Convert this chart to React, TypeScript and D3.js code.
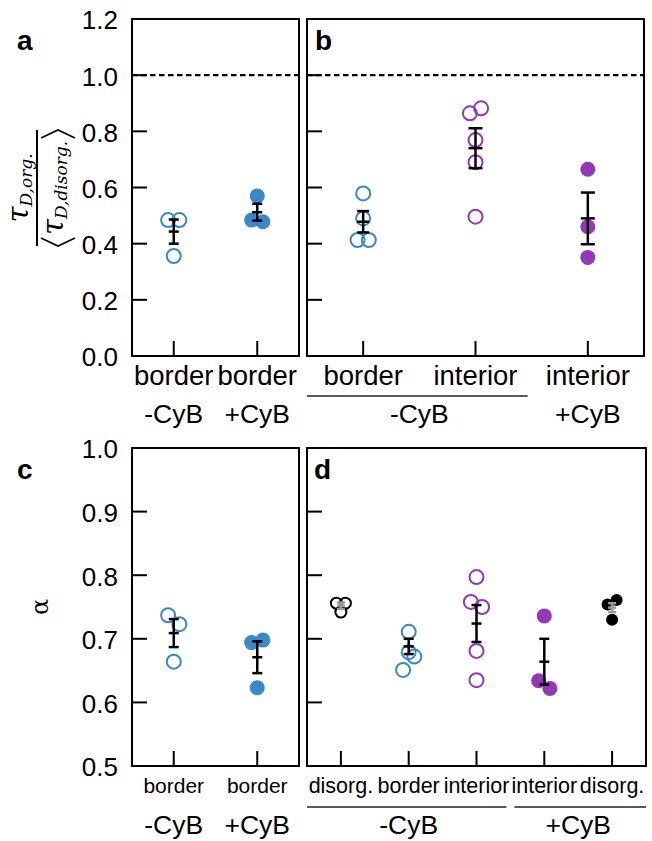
import React, { useEffect, useRef } from 'react';
import * as d3 from 'd3';

// tick values
const ratioTicks = [0, 0.2, 0.4, 0.6, 0.8, 1.0, 1.2];
const alphaTicks = [0.5, 0.6, 0.7, 0.8, 0.9, 1.0];

// panel a: tau ratio, border
const catsA = ['border', 'border'];
const condA = ['-CyB', '+CyB'];
const tauBorderNoCyB = [0.484, 0.484, 0.356];
const tauBorderCyB = [0.570, 0.484, 0.478];
const tauMeanA = [0.443, 0.512];
const tauSemA = [0.043, 0.030];

// panel b: tau ratio, border / interior
const catsB = ['border', 'interior', 'interior'];
const condB = ['-CyB', '+CyB'];
const tauBorderNoCyB2 = [0.579, 0.490, 0.413, 0.413];
const tauInteriorNoCyB = [0.864, 0.882, 0.769, 0.690, 0.496];
const tauInteriorCyB = [0.665, 0.460, 0.351];
const tauMeanB = [0.478, 0.740, 0.490];
const tauSemB = [0.038, 0.071, 0.092];

// panel c: alpha, border
const catsC = ['border', 'border'];
const condC = ['-CyB', '+CyB'];
const alphaBorderNoCyB = [0.737, 0.723, 0.664];
const alphaBorderCyB = [0.694, 0.698, 0.623];
const alphaMeanC = [0.709, 0.671];
const alphaSemC = [0.022, 0.025];

// panel d: alpha, disorg. / border / interior
const catsD = ['disorg.', 'border', 'interior', 'interior', 'disorg.'];
const condD = ['-CyB', '+CyB'];
const alphaDisorgNoCyB = [0.756, 0.756, 0.742];
const alphaBorderNoCyB2 = [0.711, 0.651, 0.672, 0.679];
const alphaInteriorNoCyB = [0.797, 0.758, 0.750, 0.681, 0.635];
const alphaInteriorCyB = [0.736, 0.634, 0.622];
const alphaDisorgCyB = [0.754, 0.761, 0.730];
const alphaMeanD = [0.752, 0.688, 0.724, 0.664, 0.749];
const alphaSemD = [0.005, 0.012, 0.029, 0.036, 0.007];

const BLUE = '#3a88c8';
const PURPLE = '#9339b8';
const SANS = 'Liberation Sans, Arial, Helvetica, sans-serif';
const SERIF = 'DejaVu Serif, serif';

// spread points that overlap vertically
function dodge(ys, r, s) {
  const order = d3.range(ys.length).sort((a, b) => ys[a] - ys[b]);
  const offs = ys.map(() => 0);
  let cluster = [];
  const flush = () => {
    const c = cluster.slice().sort((a, b) => a - b);
    const pat = c.length === 1 ? [0] : c.length === 2 ? [-s, s] : [-s, s, 0, -2 * s, 2 * s];
    c.forEach((idx, k) => { offs[idx] = pat[k % pat.length]; });
  };
  order.forEach((i, k) => {
    if (k > 0 && ys[i] - ys[order[k - 1]] >= 2 * r) { flush(); cluster = []; }
    cluster.push(i);
  });
  if (cluster.length) flush();
  return offs;
}

function drawPanel(svg, p) {
  const g = svg.append('g');
  const x = d3.scalePoint().domain(p.cats.map((_, i) => String(i))).range([p.x0, p.x1]).padding(0.5);
  const y = d3.scaleLinear().domain([p.ticks[0], p.ticks[p.ticks.length - 1]]).range([p.y1, p.y0]);

  // ticks (inside)
  g.selectAll('.yt').data(p.ticks).enter().append('line')
    .attr('x1', p.x0).attr('x2', p.x0 + 15)
    .attr('y1', d => y(d)).attr('y2', d => y(d))
    .attr('stroke', '#000').attr('stroke-width', 2);
  if (p.labels) {
    g.selectAll('.yl').data(p.ticks).enter().append('text')
      .attr('x', p.x0 - 14).attr('y', d => y(d) + 1 + 0.36 * 26)
      .attr('text-anchor', 'end').attr('font-family', SANS).attr('font-size', 26)
      .text(d => d.toFixed(1));
  }
  g.selectAll('.xt').data(p.cats).enter().append('line')
    .attr('x1', (_, i) => x(String(i))).attr('x2', (_, i) => x(String(i)))
    .attr('y1', p.y1).attr('y2', p.y1 - 15)
    .attr('stroke', '#000').attr('stroke-width', 2);

  if (p.dashed != null) {
    g.append('line')
      .attr('x1', p.x0).attr('x2', p.x1).attr('y1', y(p.dashed)).attr('y2', y(p.dashed))
      .attr('stroke', '#000').attr('stroke-width', 2.2).attr('stroke-dasharray', '5.5,3.5');
  }

  // points
  p.series.forEach((s, i) => {
    const cx = x(String(i));
    const ys = s.vals.map(v => y(v));
    const offs = dodge(ys, s.r, s.r * 0.75);
    g.selectAll(null).data(s.vals).enter().append('circle')
      .attr('cx', (_, k) => cx + offs[k]).attr('cy', d => y(d))
      .attr('r', s.filled ? s.r : s.r - 0.5)
      .attr('fill', s.filled ? s.color : 'none')
      .attr('stroke', s.color).attr('stroke-width', s.filled ? 0 : 2);
  });

  // error bars (mean +/- sem)
  p.series.forEach((s, i) => {
    const cx = x(String(i));
    const m = p.means[i];
    const e = p.sems[i];
    const w = s.cap;
    const eb = g.append('g').attr('stroke', s.errColor).attr('stroke-width', 2.5);
    eb.append('line').attr('x1', cx).attr('x2', cx).attr('y1', y(m - e)).attr('y2', y(m + e));
    [m - e, m, m + e].forEach(v => {
      eb.append('line').attr('x1', cx - w).attr('x2', cx + w).attr('y1', y(v)).attr('y2', y(v));
    });
  });

  // frame
  g.append('rect')
    .attr('x', p.x0).attr('y', p.y0).attr('width', p.x1 - p.x0).attr('height', p.y1 - p.y0)
    .attr('fill', 'none').attr('stroke', '#000').attr('stroke-width', 2);

  // panel letter
  g.append('text').attr('x', p.letterX).attr('y', p.y0 + 31)
    .attr('font-family', SANS).attr('font-weight', 'bold').attr('font-size', 28).text(p.letter);

  // category labels
  g.selectAll('.cl').data(p.cats).enter().append('text')
    .attr('x', (_, i) => x(String(i))).attr('y', p.catY)
    .attr('text-anchor', 'middle').attr('font-family', SANS).attr('font-size', p.catSize)
    .text(d => d);

  // condition labels
  p.groups.forEach(gr => {
    const a = x(String(gr.from));
    const b = x(String(gr.to));
    if (gr.line) {
      const step = x.step();
      const l = gr.from === 0 ? p.x0 : a - step / 2 + 4;
      const r = gr.to === p.cats.length - 1 ? p.x1 : b + step / 2 - 4;
      g.append('line').attr('x1', l).attr('x2', r).attr('y1', p.lineY).attr('y2', p.lineY)
        .attr('stroke', '#222').attr('stroke-width', 1.3);
    }
    g.append('text').attr('x', (a + b) / 2).attr('y', p.condY)
      .attr('text-anchor', 'middle').attr('font-family', SANS).attr('font-size', 26.5)
      .text(gr.label);
  });
}

const App = () => {
  const svgRef = useRef(null);

  useEffect(() => {
    const svg = d3.select(svgRef.current);
    svg.selectAll('*').remove();

    const open = (vals, color) => ({ vals, color, filled: false, r: 7.5, errColor: '#000', cap: 5 });
    const full = (vals, color) => ({ vals, color, filled: true, r: 7.5, errColor: '#000', cap: 5 });

    drawPanel(svg, {
      x0: 132, x1: 299, y0: 19, y1: 356, ticks: ratioTicks, labels: true, dashed: 1.0,
      cats: catsA, letter: 'a', letterX: 17,
      series: [open(tauBorderNoCyB, BLUE), full(tauBorderCyB, BLUE)],
      means: tauMeanA, sems: tauSemA,
      catY: 385, catSize: 27.5, condY: 423, lineY: 396,
      groups: [{ label: condA[0], from: 0, to: 0 }, { label: condA[1], from: 1, to: 1 }],
    });

    drawPanel(svg, {
      x0: 307, x1: 644, y0: 19, y1: 356, ticks: ratioTicks, labels: false, dashed: 1.0,
      cats: catsB, letter: 'b', letterX: 315,
      series: [
        { ...open(tauBorderNoCyB2, BLUE), cap: 6 },
        { ...open(tauInteriorNoCyB, PURPLE), cap: 7 },
        { ...full(tauInteriorCyB, PURPLE), cap: 7 },
      ],
      means: tauMeanB, sems: tauSemB,
      catY: 385, catSize: 27.5, condY: 423, lineY: 396,
      groups: [{ label: condB[0], from: 0, to: 1, line: true }, { label: condB[1], from: 2, to: 2 }],
    });

    drawPanel(svg, {
      x0: 132, x1: 299, y0: 448, y1: 766, ticks: alphaTicks, labels: true, dashed: null,
      cats: catsC, letter: 'c', letterX: 17,
      series: [open(alphaBorderNoCyB, BLUE), full(alphaBorderCyB, BLUE)],
      means: alphaMeanC, sems: alphaSemC,
      catY: 793, catSize: 21, condY: 834, lineY: 807,
      groups: [{ label: condC[0], from: 0, to: 0 }, { label: condC[1], from: 1, to: 1 }],
    });

    drawPanel(svg, {
      x0: 307, x1: 646, y0: 448, y1: 766, ticks: alphaTicks, labels: false, dashed: null,
      cats: catsD, letter: 'd', letterX: 314,
      series: [
        { vals: alphaDisorgNoCyB, color: '#000', filled: false, r: 6, errColor: '#9a9a9a', cap: 4 },
        open(alphaBorderNoCyB2, BLUE),
        open(alphaInteriorNoCyB, PURPLE),
        full(alphaInteriorCyB, PURPLE),
        { vals: alphaDisorgCyB, color: '#000', filled: true, r: 6, errColor: '#9a9a9a', cap: 4 },
      ],
      means: alphaMeanD, sems: alphaSemD,
      catY: 793, catSize: 21.5, condY: 834, lineY: 807,
      groups: [{ label: condD[0], from: 0, to: 2, line: true }, { label: condD[1], from: 3, to: 4, line: true }],
    });

    // y label a/b: tau_org / <tau_disorg>
    const yl = svg.append('g').attr('transform', 'translate(37,188) rotate(-90)')
      .attr('font-family', SERIF).attr('font-style', 'italic');
    const num = yl.append('text').attr('x', 0).attr('y', -9).attr('text-anchor', 'middle');
    num.append('tspan').attr('font-size', 29).text('τ');
    num.append('tspan').attr('font-size', 17).attr('dy', 4).text('D,org.');
    yl.append('line').attr('x1', -58).attr('x2', 58).attr('y1', 0).attr('y2', 0)
      .attr('stroke', '#000').attr('stroke-width', 2);
    const den = yl.append('text').attr('x', 0).attr('y', 26).attr('text-anchor', 'middle');
    den.append('tspan').attr('font-size', 29).text('τ');
    den.append('tspan').attr('font-size', 17).attr('dy', 4).text('D,disorg.');
    const dw = den.node().getComputedTextLength ? den.node().getComputedTextLength() : 90;
    const bl = -dw / 2 - 3;
    const br = dw / 2 + 3;
    yl.append('path').attr('d', `M${bl},4 L${bl - 8},21 L${bl},38`)
      .attr('fill', 'none').attr('stroke', '#000').attr('stroke-width', 1.6);
    yl.append('path').attr('d', `M${br},4 L${br + 8},21 L${br},38`)
      .attr('fill', 'none').attr('stroke', '#000').attr('stroke-width', 1.6);

    // y label c/d: alpha
    svg.append('text').attr('transform', 'translate(48,607) rotate(-90)')
      .attr('text-anchor', 'middle').attr('font-family', SERIF).attr('font-size', 24)
      .text('α');
  }, []);

  return (
    <svg ref={svgRef} width={652} height={841}
      style={{ position: 'absolute', left: 0, top: 0, background: '#fff' }} />
  );
};

export default App;
